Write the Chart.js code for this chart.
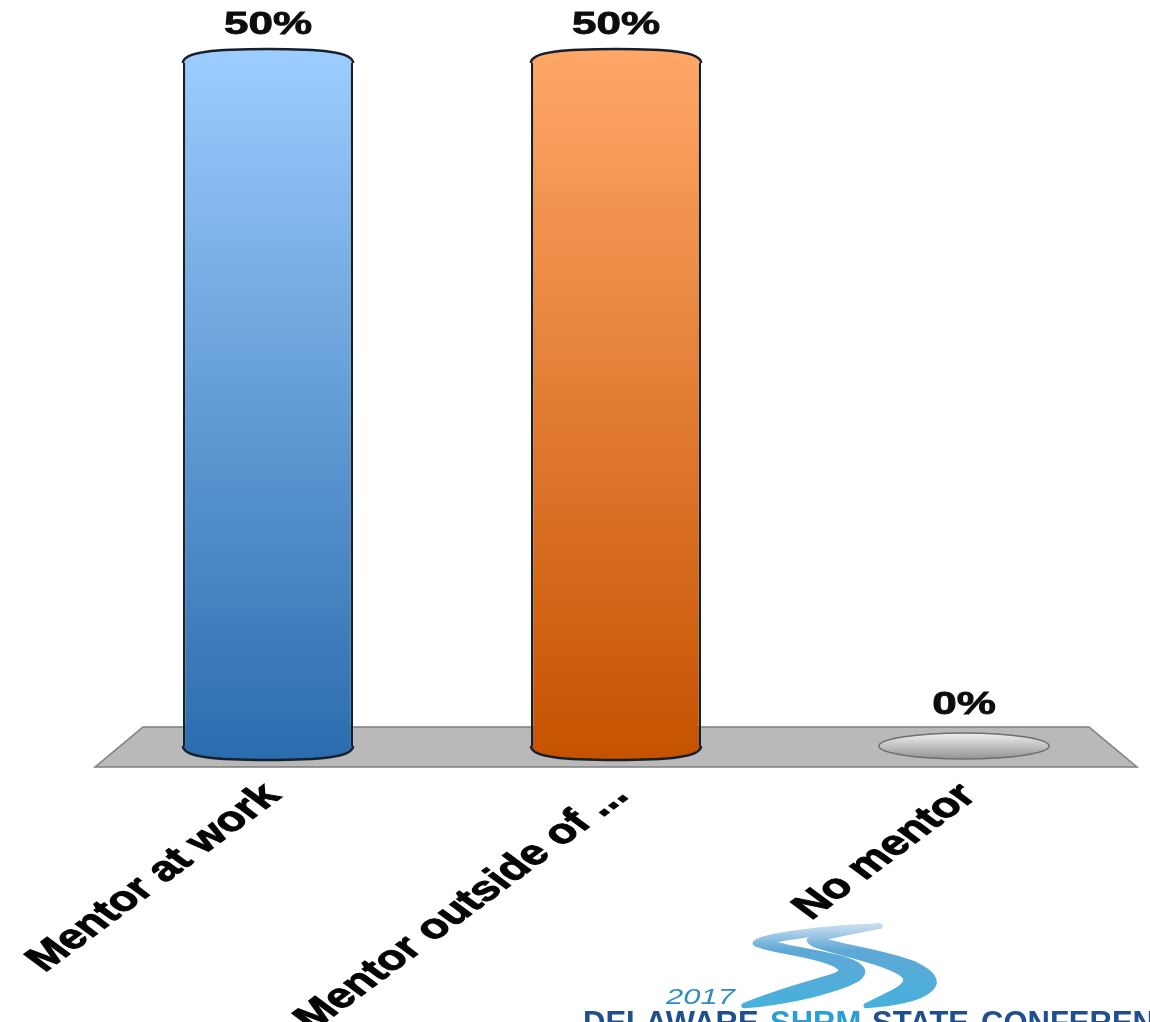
<!DOCTYPE html>
<html>

<head>
  <title>Chart</title>
  <style>
    html, body { margin: 0; padding: 0; background: #fff; overflow: hidden; }
    #wrap { width: 1150px; height: 1022px; }
  </style>
</head>

<body>
  <div id="wrap"><canvas id="myChart" width="1150" height="1022"></canvas></div>
  <script src="https://cdn.jsdelivr.net/npm/chart.js"></script>
  <script>
    var categories = ['Mentor at work', 'Mentor outside of ...', 'No mentor'];
    var values = [50, 50, 0];
    var valueLabels = ['50%', '50%', '0%'];
    var topColors = ['#9dcdff', '#ffa768', '#ececec'];
    var bottomColors = ['#2a6cae', '#c55200', '#8f8f8f'];

    function barGradient(ctx, i) {
      var area = ctx.chart.chartArea;
      if (!area) return topColors[i];
      var g = ctx.chart.ctx.createLinearGradient(0, area.top - 13, 0, area.bottom + 13);
      g.addColorStop(0, topColors[i]);
      g.addColorStop(1, bottomColors[i]);
      return g;
    }

    // grey floor the cylinders stand on
    var floorPlugin = {
      id: 'floor',
      beforeDatasetsDraw: function (chart) {
        var a = chart.chartArea, c = chart.ctx;
        c.save();
        c.beginPath();
        c.moveTo(a.left + 1, a.bottom + 20);
        c.lineTo(a.left + 49, a.bottom - 20);
        c.lineTo(a.right - 49, a.bottom - 20);
        c.lineTo(a.right - 1, a.bottom + 20);
        c.closePath();
        c.fillStyle = '#b9b9b9';
        c.fill();
        c.strokeStyle = '#7d7d7d';
        c.lineWidth = 1.5;
        c.stroke();
        c.restore();
      }
    };

    // rounded caps on the bars, and the labels above them
    var capsPlugin = {
      id: 'caps',
      afterDatasetsDraw: function (chart) {
        var c = chart.ctx, a = chart.chartArea;
        var ry = 13;
        chart.getDatasetMeta(0).data.forEach(function (bar, i) {
          var rx = bar.width / 2;
          var g = c.createLinearGradient(0, a.top - ry, 0, a.bottom + ry);
          g.addColorStop(0, topColors[i]);
          g.addColorStop(1, bottomColors[i]);
          c.save();
          if (values[i] === 0) {
            g = c.createLinearGradient(0, bar.base - ry, 0, bar.base + ry);
            g.addColorStop(0, topColors[i]);
            g.addColorStop(1, bottomColors[i]);
            c.beginPath();
            c.ellipse(bar.x, bar.base - 1, rx, ry, 0, 0, Math.PI * 2);
            c.fillStyle = g;
            c.fill();
            c.strokeStyle = '#6f6f6f';
            c.lineWidth = 1.5;
            c.stroke();
          } else {
            c.fillStyle = g;
            c.strokeStyle = '#16202c';
            c.lineWidth = 2.5;
            // top
            c.beginPath();
            c.moveTo(bar.x - rx, bar.y + 1);
            c.bezierCurveTo(bar.x - rx, bar.y - ry * 0.8, bar.x - rx * 0.6, bar.y - ry, bar.x, bar.y - ry);
            c.bezierCurveTo(bar.x + rx * 0.6, bar.y - ry, bar.x + rx, bar.y - ry * 0.8, bar.x + rx, bar.y + 1);
            c.fill();
            c.stroke();
            // bottom
            c.beginPath();
            c.moveTo(bar.x - rx, bar.base - 1);
            c.bezierCurveTo(bar.x - rx, bar.base + ry * 0.8, bar.x - rx * 0.6, bar.base + ry, bar.x, bar.base + ry);
            c.bezierCurveTo(bar.x + rx * 0.6, bar.base + ry, bar.x + rx, bar.base + ry * 0.8, bar.x + rx, bar.base - 1);
            c.fill();
            c.stroke();
          }
          c.translate(bar.x, bar.y - (values[i] === 0 ? 33 : 28));
          c.scale(1.42, 1);
          c.fillStyle = '#0d0d0d';
          c.strokeStyle = '#0d0d0d';
          c.lineWidth = 0.8;
          c.font = 'bold 31px "Liberation Sans"';
          c.textAlign = 'center';
          c.textBaseline = 'alphabetic';
          c.fillText(valueLabels[i], 0, 0);
          c.strokeText(valueLabels[i], 0, 0);
          c.restore();
        });
      }
    };

    // category labels: 45 degree text stretched sideways, which the ticks option can't do
    var tickPlugin = {
      id: 'stretchedTicks',
      afterDraw: function (chart) {
        var c = chart.ctx, xs = chart.scales.x, a = chart.chartArea;
        xs.ticks.forEach(function (t, i) {
          c.save();
          c.translate(xs.getPixelForTick(i) + 14, a.bottom + 50);
          c.scale(1.35, 1);
          c.rotate(-Math.PI / 4);
          c.font = 'bold 35px "Liberation Sans"';
          c.textAlign = 'right';
          c.fillStyle = '#050505';
          c.strokeStyle = '#050505';
          c.lineWidth = 1;
          c.fillText(t.label, 0, 0);
          c.strokeText(t.label, 0, 0);
          c.restore();
        });
      }
    };

    // conference logo, cut off by the bottom of the picture
    var logoPlugin = {
      id: 'logo',
      afterDraw: function (chart) {
        var c = chart.ctx;
        c.save();
        c.translate(560, 898.6);
        c.scale(0.376, 0.343);
        var g = c.createLinearGradient(0, 80, 0, 312);
        g.addColorStop(0, '#c5dcee');
        g.addColorStop(0.3, '#5fa8d6');
        g.addColorStop(1, '#48b0dc');
        c.fillStyle = g;
        c.strokeStyle = g;
        c.lineWidth = 16;
        c.lineJoin = 'round';
        c.beginPath();
        c.moveTo(490, 312);
        c.bezierCurveTo(580, 270, 690, 240, 730, 225);
        c.bezierCurveTo(770, 210, 740, 190, 690, 175);
        c.bezierCurveTo(620, 155, 540, 145, 520, 130);
        c.bezierCurveTo(530, 110, 700, 85, 850, 80);
        c.bezierCurveTo(740, 95, 590, 110, 560, 125);
        c.bezierCurveTo(570, 140, 680, 155, 750, 175);
        c.bezierCurveTo(810, 195, 815, 215, 790, 235);
        c.bezierCurveTo(740, 265, 620, 300, 490, 312);
        c.closePath();
        c.fill();
        c.stroke();
        c.beginPath();
        c.moveTo(815, 312);
        c.bezierCurveTo(870, 280, 930, 260, 920, 230);
        c.bezierCurveTo(900, 195, 780, 170, 680, 135);
        c.bezierCurveTo(660, 125, 665, 120, 665, 120);
        c.bezierCurveTo(700, 100, 780, 90, 850, 80);
        c.bezierCurveTo(780, 95, 700, 110, 695, 120);
        c.bezierCurveTo(720, 135, 860, 155, 940, 190);
        c.bezierCurveTo(1000, 220, 1010, 250, 970, 275);
        c.bezierCurveTo(940, 295, 890, 305, 815, 312);
        c.closePath();
        c.fill();
        c.stroke();
        c.restore();

        c.save();
        c.translate(666, 1004);
        c.scale(1.41, 1);
        c.font = 'italic 22px "Liberation Sans"';
        c.fillStyle = '#2f8dbd';
        c.fillText('2017', 0, 0);
        c.restore();

        c.save();
        c.font = 'bold 31px "Liberation Sans"';
        c.fillStyle = '#1f4f8f';
        c.fillText('DELAWARE', 583, 1033);
        c.fillStyle = '#2a9fd6';
        c.fillText('SHRM', 770, 1033);
        c.fillStyle = '#1f4f8f';
        c.fillText('STATE', 872, 1033);
        c.fillText('CONFERENCE', 981, 1033);
        c.restore();
      }
    };

    var myChart = new Chart(document.getElementById('myChart'), {
      type: 'bar',
      data: {
        labels: categories,
        datasets: [{
          data: values,
          backgroundColor: function (ctx) { return barGradient(ctx, ctx.dataIndex); },
          borderColor: '#16202c',
          borderWidth: { left: 2.5, right: 2.5, top: 0, bottom: 0 },
          borderSkipped: false,
          barPercentage: 0.489,
          categoryPercentage: 1
        }]
      },
      options: {
        responsive: false,
        animation: false,
        layout: { padding: { left: 94, right: 12, top: 62, bottom: 0 } },
        plugins: { legend: { display: false }, title: { display: false }, tooltip: { enabled: false } },
        scales: {
          y: { display: false, min: 0, max: 50 },
          x: {
            afterFit: function (scale) { scale.height = 275; },
            grid: { display: false },
            border: { display: false },
            ticks: { display: false, autoSkip: false }
          }
        }
      },
      plugins: [floorPlugin, capsPlugin, tickPlugin, logoPlugin]
    });
  </script>
</body>

</html>
